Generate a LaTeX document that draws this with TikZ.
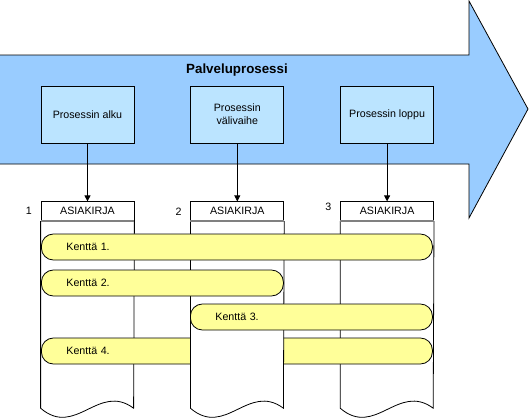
\documentclass[tikz,border=0pt]{standalone}
\usepackage{fontspec}
\setmainfont{Liberation Sans}
\usetikzlibrary{
    arrows.meta,
    positioning
}
\definecolor{arrowblue}{RGB}{153,204,255}
\definecolor{phaseblue}{RGB}{187,228,255}
\definecolor{fieldyellow}{RGB}{255,255,153}
\tikzset{
    phase/.style = {
        rectangle,
        draw,
        fill=phaseblue,
        minimum width=69.75pt,
        minimum height=42.75pt,
        align=center
    },
    docheader/.style = {
        rectangle,
        draw,
        fill=white,
        minimum width=69.75pt,
        minimum height=14.25pt,
        inner sep=0pt
    },
    field/.style = {
        rectangle,
        rounded corners=9pt,
        draw,
        fill=fieldyellow,
        minimum height=19.5pt,
        inner xsep=18.75pt,
        align=left,
        anchor=west
    },
    docline/.style = {
        draw,
        fill=white
    },
    docsep/.style = {
        draw=gray,
        line width=1.2pt
    },
    arrow/.style = {
        -{Triangle[length=4.5pt,width=4.5pt]}
    }
}
% document body below a header node
\newcommand\docbody[1]{%
    \path[docline] (#1.south west) -- ++(0,187)
        .. controls +(35,30) and +(-35,-26) .. ++(93,0) -- (#1.south east);
    \draw[docsep] (#1.south west) -- (#1.south east);
}

\begin{document}
\begin{tikzpicture}[x=0.75pt, y=-0.75pt, line width=0.6pt,
    font=\fontsize{8}{9.6}\selectfont]
\useasboundingbox (0,0) rectangle (529,419);

% process arrow
\fill[arrowblue] (0,55) -- (469,55) -- (469,1) -- (528,109)
    -- (469,218) -- (469,164) -- (0,164) -- cycle;
\draw (0,55) -- (469,55) -- (469,1) -- (528,109)
    -- (469,218) -- (469,164) -- (0,164);
\node[font=\bfseries\fontsize{10}{12}\selectfont] (title) at (237,70) {Palveluprosessi};

% phases
\node[phase] (alku) at (87.5,114.5) {Prosessin alku};
\node[phase, right=42pt of alku] (vali) {Prosessin\\välivaihe};
\node[phase, right=42pt of vali] (loppu) {Prosessin loppu};

% documents
\node[docheader, below=43.5pt of alku] (doc1) {ASIAKIRJA};
\node[docheader, below=43.5pt of vali] (doc2) {ASIAKIRJA};
\node[docheader, below=43.5pt of loppu] (doc3) {ASIAKIRJA};
\node[left=3pt of doc1] (num1) {1};
\node[left=3pt of doc2] (num2) {2};
\node[left=3pt of doc3, yshift=3pt] (num3) {3};

\draw[arrow] (alku) -- (doc1);
\draw[arrow] (vali) -- (doc2);
\draw[arrow] (loppu) -- (doc3);

\docbody{doc1}
\docbody{doc3}
\node[field, text width=255.75pt] (kentta4) at (41,351) {Kenttä 4.};
\docbody{doc2}

% fields
\node[field, text width=255.75pt] (kentta1) at (41,247) {Kenttä 1.};
\node[field, text width=144pt] (kentta2) at (41,283) {Kenttä 2.};
\node[field, text width=144pt] (kentta3) at (190,317) {Kenttä 3.};
\end{tikzpicture}
\end{document}
